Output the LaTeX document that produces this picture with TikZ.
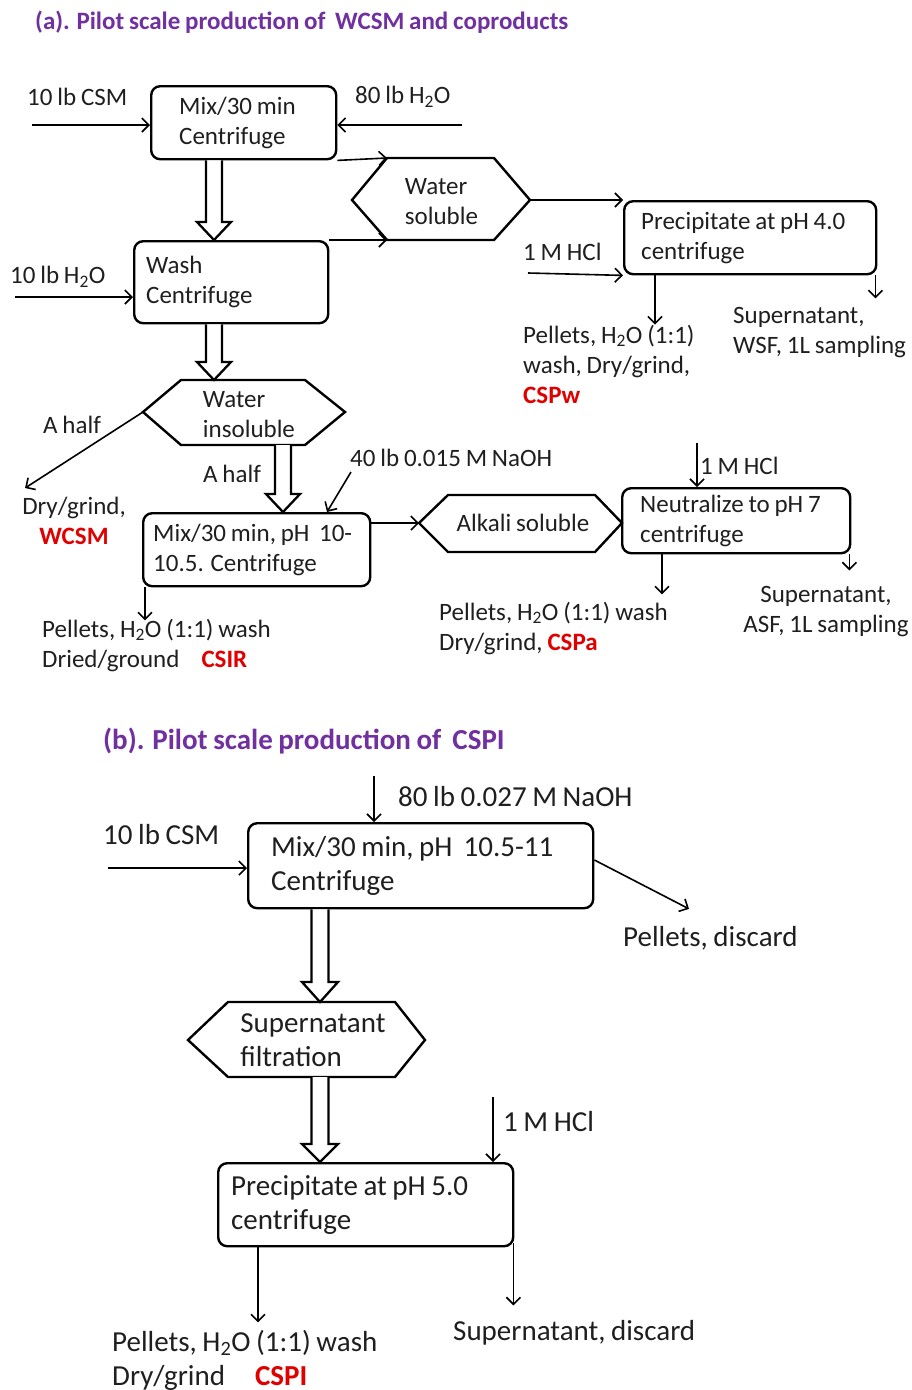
\documentclass[tikz,border=0pt]{standalone}
\usepackage{fontspec}
\setmainfont{Carlito}[WordSpace=0.85]
\usetikzlibrary{arrows.meta,calc}
\definecolor{ttl}{HTML}{7030A0}
\definecolor{rd}{HTML}{E00000}
\newcommand\hollowarrow[5]{%
  \draw[hollow] let \p1=(#1), \p2=(#2) in
    (\x1-#3,\y1) -- (\x1-#3,\y2+#5) -- (\x1-#4,\y2+#5) -- (\x1,\y2)
    -- (\x1+#4,\y2+#5) -- (\x1+#3,\y2+#5) -- (\x1+#3,\y1);}
\begin{document}
\begin{tikzpicture}[x=1pt,y=-1pt,
  every node/.style={inner sep=0pt, text=black!88},
  fa/.style={font=\fontsize{25pt}{30pt}\selectfont},
  fb/.style={font=\fontsize{29pt}{34pt}\selectfont},
  pbox/.style={draw=black, line width=2.4pt, rounded corners=9pt, align=left, anchor=north west, inner ysep=0pt,
    execute at begin node={\spaceskip=0pt\xspaceskip=0pt\relax}},
  hexline/.style={draw=black, line width=2.4pt, line join=miter},
  lbl/.style={align=left, anchor=west},
  arr/.style={line width=1.6pt, -{Straight Barb[length=7pt,width=14pt]}},
  hollow/.style={line width=2.3pt, line join=miter, fill=white},
]
\useasboundingbox[fill=white] (0,0) rectangle (911,1390);

% ---------------- part (a) ----------------
\node[lbl, font=\fontsize{25pt}{30pt}\selectfont\bfseries, text=ttl] (ta) at (35,22) {(a). Pilot scale production of~~WCSM and coproducts};

\node[pbox, fa, minimum width=185pt, minimum height=73pt, inner xsep=28pt, text width=129pt] (box1) at (150,85) {Mix/30 min\\Centrifuge};
\node[fa, lbl] (csm) at (27,97) {10 lb CSM};
\node[fa, lbl] (w80) at (355,97) {80 lb H\textsubscript{2}O};
\coordinate (csmA) at (32,125);
\coordinate (w80A) at (462,125);
\draw[arr] (csmA) -- (csmA -| box1.west);
\draw[arr] (w80A) -- (w80A -| box1.east);

\node[pbox, fa, minimum width=194pt, minimum height=82pt, inner xsep=12pt, text width=170pt] (wash) at (133,240) {Wash\\Centrifuge\vphantom{g}\\[-12pt]};
\node[fa, lbl] (w10) at (10,277) {10 lb H\textsubscript{2}O};
\coordinate (w10A) at (15,297);
\draw[arr] (w10A) -- (w10A -| wash.west);

% hollow arrow box1 -> wash
\coordinate (h1s) at ($(box1.south west)+(64,0)$);
\coordinate (h1e) at (h1s |- wash.north);
\hollowarrow{h1s}{h1e}{8pt}{17pt}{18pt}

% Water soluble
\node[fa, align=left] (ws) at (441.5,201.5) {Water\\soluble};
\draw[hexline] (352,200) coordinate (ws-l) -- (387,158) coordinate (ws-tl) -- (494,158) -- (530,200) coordinate (ws-r) -- (494,240) -- (387,240) coordinate (ws-bl) -- cycle;
\draw[arr] (box1.south east) -- (ws-tl);
\draw[arr] (wash.north east) -- (ws-bl);

\node[pbox, fa, minimum width=252pt, minimum height=73pt, inner xsep=17pt, text width=218pt] (prec) at (623,200) {Precipitate at pH 4.0\\centrifuge};
\draw[arr] (ws-r) -- (prec.north west);
\node[fa, lbl] (hcl1) at (523,252) {1 M HCl};
\coordinate (hcl1A) at (528,273);
\draw[arr] (hcl1A) -- (prec.south west);

\node[fa, lbl] (pelw) at (523,364) {Pellets, H\textsubscript{2}O (1:1)\\wash, Dry/grind,\\\textbf{\color{rd}CSPw}};
\node[fa, lbl] (supw) at (733,333) {Supernatant,\\WSF, 1L sampling};
\coordinate (pw1) at ($(prec.south west)+(32,0)$);
\draw[arr] (pw1) -- (pw1 |- pelw.north);
\draw[arr] ($(prec.south east)+(-2,0)$) -- ++(0,23);

% Water insoluble
\node[fa, align=left] (wi) at (249,415) {Water\\insoluble};
\draw[hexline] (143,412) coordinate (wi-l) -- (181,380) coordinate (wi-tl) -- (305,380) -- (345,412) coordinate (wi-r) -- (305,445) -- (181,445) coordinate (wi-bl) -- cycle;
\coordinate (h2s) at (h1s |- wash.south);
\coordinate (h2e) at (h1s |- wi-tl);
\hollowarrow{h2s}{h2e}{8pt}{17pt}{18pt}

\node[fa, lbl] (ah1) at (43,425) {A half};
\node[fa, align=center] (dg) at (74,521) {Dry/grind,\\\textbf{\color{rd}WCSM}};
\draw[arr] (wi-l) -- ($(dg.north west)+(3,-9)$);

\node[pbox, fa, minimum width=227pt, minimum height=73pt, inner xsep=10pt, text width=207pt] (box3) at (142,512) {\mbox{Mix/30 min, pH~~10-}\\10.5. Centrifuge};
\coordinate (h3s) at (283,445);
\coordinate (h3e) at (h3s |- box3.north);
\hollowarrow{h3s}{h3e}{8pt}{17pt}{18pt}
\node[fa, lbl] (ah2) at (203,474) {A half};
\node[fa, lbl] (naoh1) at (350,458) {40 lb 0.015 M NaOH};
\coordinate (naohA) at (351,472);
\draw[arr] (naohA) -- ($(box3.north west)+(185,0)$);

% Alkali soluble
\node[fa] (alk) at (523,523) {Alkali soluble};
\draw[hexline] (419,523) coordinate (alk-l) -- (448,495) -- (595,495) -- (622,523) coordinate (alk-r) -- (595,552) -- (448,552) -- cycle;
\draw[arr] (alk-l -| box3.east) -- (alk-l);

\node[pbox, fa, minimum width=228pt, minimum height=65pt, inner xsep=18pt, text width=192pt] (neut) at (621,487) {Neutralize to pH 7\\centrifuge};
\coordinate (hcl2A) at (697,443);
\draw[arr] (hcl2A) -- (hcl2A |- neut.north);
\node[fa, lbl] (hcl2) at (700,466) {1 M HCl};

\node[fa, lbl] (pela) at (439,628) {Pellets, H\textsubscript{2}O (1:1) wash\\Dry/grind, \textbf{\color{rd}CSPa}};
\node[fa, align=center] (supa) at (826,612) {Supernatant,\\ASF, 1L sampling};
\coordinate (pa1) at ($(neut.south west)+(41,0)$);
\draw[arr] (pa1) -- ++(0,40);
\draw[arr] ($(neut.south east)+(-2,0)$) -- ++(0,16);

\node[fa, lbl] (pelr) at (42,645) {Pellets, H\textsubscript{2}O (1:1) wash\\Dried/ground\hspace{22pt}\textbf{\color{rd}CSIR}};
\coordinate (pr1) at ($(box3.south west)+(3,0)$);
\draw[arr] (pr1) -- ++(0,33);

% ---------------- part (b) ----------------
\node[lbl, font=\fontsize{29pt}{34pt}\selectfont\bfseries, text=ttl] (tb) at (103,741) {(b). Pilot scale production of~~CSPI};

\node[pbox, fb, minimum width=345pt, minimum height=85pt, inner xsep=23pt, text width=299pt] (b1) at (247,822) {Mix/30 min, pH~~10.5-11\\Centrifuge};
\node[fb, lbl] (naoh2) at (398,797) {80 lb 0.027 M NaOH};
\coordinate (naoh2A) at (374,776);
\draw[arr] (naoh2A) -- (naoh2A |- b1.north);
\node[fb, lbl] (csm2) at (103,835) {10 lb CSM};
\coordinate (csm2A) at (108,868);
\draw[arr] (csm2A) -- (csm2A -| b1.west);
\node[fb, lbl] (pd) at (623,938) {Pellets, discard};
\draw[arr] ($(b1.north east)+(0,38)$) -- ($(pd.north west)+(66,-17)$);

% Supernatant filtration
\node[fb, align=left] (sf) at (313,1040.5) {Supernatant\\filtration};
\draw[hexline] (188,1040) coordinate (sf-l) -- (228,1002) coordinate (sf-tl) -- (395,1002) -- (425,1040) coordinate (sf-r) -- (395,1077) -- (228,1077) coordinate (sf-bl) -- cycle;
\coordinate (h4s) at ($(b1.south west)+(73,0)$);
\coordinate (h4e) at (h4s |- sf-tl);
\hollowarrow{h4s}{h4e}{8.5pt}{18pt}{20pt}

\node[pbox, fb, minimum width=295pt, minimum height=83pt, inner xsep=13pt, text width=269pt] (b2) at (217,1162) {Precipitate at pH 5.0\\centrifuge};
\coordinate (h5s) at (h4s |- sf-bl);
\coordinate (h5e) at (h4s |- b2.north);
\hollowarrow{h5s}{h5e}{8.5pt}{18pt}{18pt}
\coordinate (hcl3A) at (493,1097);
\draw[arr] (hcl3A) -- (hcl3A |- b2.north);
\node[fb, lbl] (hcl3) at (503,1122) {1 M HCl};

\node[fb, lbl] (peli) at (112,1360) {Pellets, H\textsubscript{2}O (1:1) wash\\Dry/grind\hspace{30pt}\textbf{\color{rd}CSPI}};
\node[fb, lbl] (supd) at (453,1333) {Supernatant, discard};
\coordinate (pi1) at ($(b2.south west)+(41,0)$);
\draw[arr] (pi1) -- ++(0,75);
\draw[arr] ($(b2.south east)+(-1,-4)$) -- ++(0,62);
\end{tikzpicture}
\end{document}
